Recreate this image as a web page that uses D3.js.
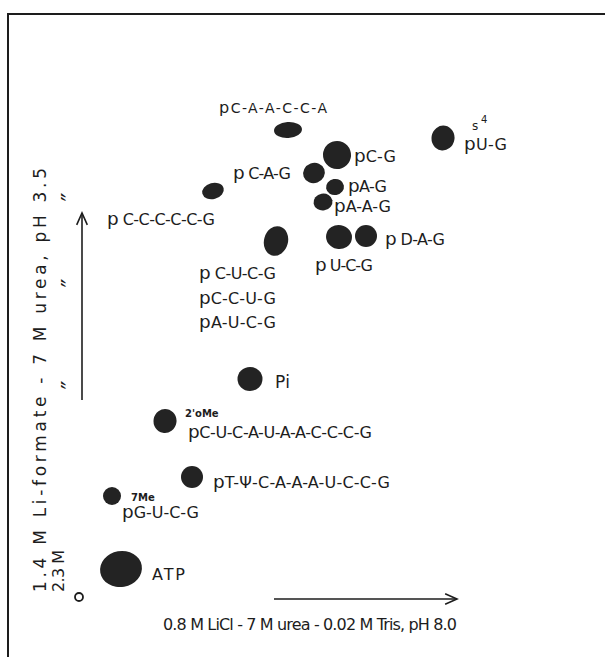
<!DOCTYPE html>
<html><head><meta charset="utf-8">
<script src="https://cdn.jsdelivr.net/npm/d3@7"></script>
<style>
html,body{margin:0;padding:0;background:#fff;}
svg{display:block;}
text{font-family:"DejaVu Sans",sans-serif;fill:#1d1d1d;}
</style></head><body>
<svg id="chart" width="605" height="657"></svg>
<script>
// Spots on the two-dimensional fingerprint
const spotNames = ["pC-A-A-C-C-A","pC-G","pC-A-G","pA-G","pA-A-G","pC-C-C-C-C-G","pC-U-C-G","pU-C-G","pD-A-G","s4pU-G","Pi","2'oMe-pC-U-C-A-U-A-A-C-C-C-G","pT-Ψ-C-A-A-A-U-C-C-G","7Me-pG-U-C-G","ATP"];
// First dimension mobility (LiCl, pH 8.0), arbitrary units from origin
const mobilityX = [41.8,51.6,47.0,51.2,48.8,26.8,39.4,52.0,57.4,72.8,34.2,17.2,22.6,6.6,8.4];
// Second dimension mobility (Li-formate, pH 3.5)
const mobilityY = [93.4,88.4,84.8,82.0,79.0,81.2,71.2,72.0,72.2,91.8,43.6,35.2,24.0,20.2,5.6];
// Spot half-extent along each direction, same units
const spreadX = [2.8,2.8,2.2,1.8,1.9,2.2,2.4,2.6,2.2,2.3,2.5,2.3,2.2,1.8,4.2];
const spreadY = [1.6,2.8,2.0,1.6,1.7,1.6,3.0,2.4,2.2,2.5,2.4,2.4,2.2,1.8,3.6];

// Spot labels ("p" prefix drawn separately from the sequence)
const labelSeqs = ["C-A-A-C-C-A","C-G"," C-A-G","A-G","A-A-G"," C-C-C-C-C-G"," C-U-C-G","C-C-U-G","A-U-C-G"," U-C-G"," D-A-G","U-G","Pi","C-U-C-A-U-A-A-C-C-C-G","T-Ψ-C-A-A-A-U-C-C-G","G-U-C-G","ATP"];
const labelPrefix = ["p","p","p","p","p","p","p","p","p","p","p","p","","p","p","p",""];
// Modification marks written above labels
const modTexts = ["s","4","2'oMe","7Me"];

// Axis captions
const axisX = "0.8 M LiCl - 7 M urea - 0.02 M Tris, pH 8.0";
const axisY1 = "1.4 M Li-formate - 7 M urea, pH 3.5";
const axisY2 = "2.3 M";
const dittoCount = 3;

const svg = d3.select("#chart");
const ink = "#1d1d1d";

const x = d3.scaleLinear().domain([0, 100]).range([79, 579]);
const y = d3.scaleLinear().domain([0, 100]).range([597, 97]);

// frame: top rule and left rule
svg.append("line").attr("x1", 7).attr("x2", 605).attr("y1", 14).attr("y2", 14)
  .attr("stroke", ink).attr("stroke-width", 2);
svg.append("line").attr("x1", 8).attr("x2", 8).attr("y1", 13).attr("y2", 657)
  .attr("stroke", ink).attr("stroke-width", 2);

// spot tilt (degrees) per spot
const tilt = [-4,-20,-20,-10,-10,-15,15,10,0,10,0,10,0,0,-10];

const spots = spotNames.map((n, i) => ({n, mx: mobilityX[i], my: mobilityY[i], sx: spreadX[i], sy: spreadY[i], t: tilt[i]}));
svg.append("g").selectAll("ellipse").data(spots).join("ellipse")
  .attr("cx", d => x(d.mx)).attr("cy", d => y(d.my))
  .attr("rx", d => x(d.sx) - x(0)).attr("ry", d => y(0) - y(d.sy))
  .attr("transform", d => `rotate(${d.t},${x(d.mx)},${y(d.my)})`)
  .attr("fill", "#232323");

// origin
svg.append("circle").attr("cx", x(0)).attr("cy", y(0)).attr("r", 4)
  .attr("fill", "none").attr("stroke", ink).attr("stroke-width", 1.8);

// label placement: left x, baseline y, drawn width, font size
const labelLayout = [
  [219,113,108,14],[354,162,42,16],[233,179,58,16],[348,192,39,16],[334,212,57,16],
  [107,225,108,16],[199,279,77,16],[199,304,77,16],[199,328,77,16],[315,271,58,16],
  [385,245,60,16],[464,150,43,16],[275,388,15,17],[188,438,184,16],[213,488,177,16],
  [122,518,77,16],[152,580,33,16]
];
const labels = labelSeqs.map((s, i) => ({s, p: labelPrefix[i], L: labelLayout[i]}));
const lt = svg.append("g").selectAll("text").data(labels).join("text")
  .attr("x", d => d.L[0]).attr("y", d => d.L[1])
  .attr("font-size", d => d.L[3])
  .attr("textLength", d => d.L[2]).attr("lengthAdjust", "spacing");
lt.each(function(d) {
  const t = d3.select(this);
  if (d.p) t.append("tspan").attr("font-size", d.L[3] * 1.15).text(d.p);
  t.append("tspan").text(d.s);
});

// modification marks
const modLayout = [[472,130,12,"normal"],[481,123,10,"normal"],[185,417,10,"bold"],[131,501,10,"bold"]];
svg.append("g").selectAll("text").data(modTexts).join("text")
  .attr("x", (d, i) => modLayout[i][0]).attr("y", (d, i) => modLayout[i][1])
  .attr("font-size", (d, i) => modLayout[i][2]).attr("font-weight", (d, i) => modLayout[i][3])
  .text(d => d);

// arrows
function arrow(x1, y1, x2, y2) {
  const g = svg.append("g").attr("stroke", ink).attr("stroke-width", 1.6).attr("fill", "none");
  g.append("line").attr("x1", x1).attr("y1", y1).attr("x2", x2).attr("y2", y2);
  const a = Math.atan2(y2 - y1, x2 - x1), L = 13, w = 0.42;
  const p = d3.path();
  p.moveTo(x2 - L * Math.cos(a - w), y2 - L * Math.sin(a - w));
  p.lineTo(x2, y2);
  p.lineTo(x2 - L * Math.cos(a + w), y2 - L * Math.sin(a + w));
  g.append("path").attr("d", p.toString());
}
arrow(274, 599, 457, 599);
arrow(82, 400, 82, 213);

// axis captions
svg.append("text").attr("transform", "translate(46,592) rotate(-90)").attr("font-size", 17)
  .attr("textLength", 424).attr("lengthAdjust", "spacing").text(axisY1);
svg.append("text").attr("transform", "translate(64,592) rotate(-90)").attr("font-size", 16)
  .attr("textLength", 42).attr("lengthAdjust", "spacing").text(axisY2);
svg.append("text").attr("x", 163).attr("y", 630).attr("font-size", 16)
  .attr("textLength", 294).attr("lengthAdjust", "spacing").text(axisX);

// ditto marks on the second caption line
const dittoY = [385, 283, 197].slice(0, dittoCount);
svg.append("g").selectAll("text").data(dittoY).join("text")
  .attr("transform", d => `translate(79,${d}) rotate(-90)`)
  .attr("text-anchor", "middle").attr("font-size", 24).text("\u2033");
</script>
</body></html>
